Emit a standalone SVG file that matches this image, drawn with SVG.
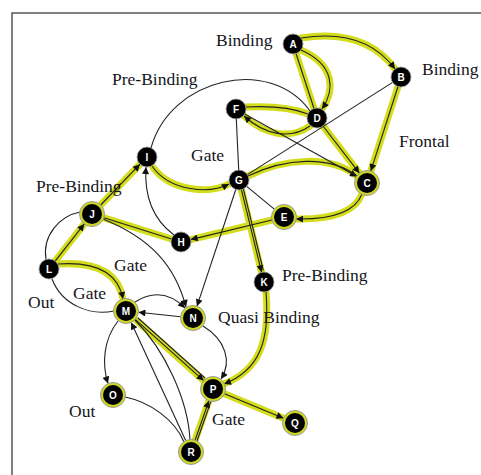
<svg xmlns="http://www.w3.org/2000/svg" width="481" height="475" viewBox="0 0 481 475">
<style>
.hl{fill:none;stroke:#d3dd1c;stroke-width:7;stroke-linecap:round}
.e{fill:none;stroke:#222;stroke-width:1.1}
.a{marker-end:url(#arr)}
.lbl{font-family:"Liberation Serif","Times New Roman",serif;font-size:17.5px;fill:#151520}
.pn{fill:#000;stroke:#999;stroke-width:0.8}
.ring{fill:#cdd81e;stroke:#9a9a9a;stroke-width:1}
.core{fill:#000}
.t{font-family:"Liberation Sans",Arial,sans-serif;font-size:10px;font-weight:bold;fill:#fff;text-anchor:middle}
</style>
<defs>
<marker id="arr" viewBox="0 0 10 10" refX="10" refY="5" markerWidth="9" markerHeight="7" markerUnits="userSpaceOnUse" orient="auto"><path d="M0,0 L10,5 L0,10 z" fill="#111"/></marker>
</defs>
<rect width="481" height="475" fill="#fff"/>
<g id="frame" stroke="#555" stroke-width="1.5" fill="none"><path d="M12,475 L12,13 L481,13"/></g>

<g id="highlights">
<path class="hl" d="M301,38 Q365,28 395,69"/>
<path class="hl" d="M296,53.5 L314,108.5"/>
<path class="hl" d="M301,50 C335,65 335,90 322,109"/>
<path class="hl" d="M398,86.5 L370.8,171.1"/>
<path class="hl" d="M246,107 Q285,105 308,114"/>
<path class="hl" d="M310,126 C290,140 265,135 244,116"/>
<path class="hl" d="M323,126 L359.4,173.1"/>
<path class="hl" d="M248,176 C285,158 330,155 357,176"/>
<path class="hl" d="M362,194 Q352,220 296,219"/>
<path class="hl" d="M271.9,220 L190.7,239.6"/>
<path class="hl" d="M241.4,189.7 L261.6,272.3"/>
<path class="hl" d="M266,292 C270,340 260,370 224,384"/>
<path class="hl" d="M152,166 C170,192 210,194 229,184"/>
<path class="hl" d="M100.7,205 L140,164.2"/>
<path class="hl" d="M55.2,261.1 L84.3,223.9"/>
<path class="hl" d="M103.9,217.8 L171.5,239"/>
<path class="hl" d="M58,264 Q116,260 123,299"/>
<path class="hl" d="M135.3,319.3 L203.7,380.6"/>
<path class="hl" d="M195.1,440.2 L208.9,400.8"/>
<path class="hl" d="M224.5,393.8 L283.5,418.2"/>
</g>

<g id="connectors">
<path class="e a" d="M301,38 Q365,28 395,69"/>
<path class="e" d="M296,53.5 L314,108.5"/>
<path class="e a" d="M301,50 C335,65 335,90 322,109"/>
<path class="e a" d="M398,86.5 L370.8,171.1"/>
<path class="e" d="M392.6,82.4 L247.4,174.6"/>
<path class="e" d="M310,111 C270,55 170,78 151,148"/>
<path class="e" d="M236.3,119 L238.7,170"/>
<path class="e" d="M246,107 Q285,105 308,114"/>
<path class="e a" d="M310,126 C290,140 265,135 244,116"/>
<path class="e a" d="M323,126 L359.4,173.1"/>
<path class="e a" d="M244.7,113.9 L357,176.5"/>
<path class="e" d="M248,176 C285,158 330,155 357,176"/>
<path class="e a" d="M362,194 Q352,220 296,219"/>
<path class="e a" d="M271.9,220 L190.7,239.6"/>
<path class="e" d="M246.7,186.3 L274.3,209.1"/>
<path class="e a" d="M241.4,189.7 L261.6,272.3"/>
<path class="e" d="M243.4,189.2 L263.3,270.5"/>
<path class="e a" d="M235.8,189.5 L197,306.2"/>
<path class="e a" d="M266,292 C270,340 260,370 224,384"/>
<path class="e a" d="M152,166 C170,192 210,194 229,184"/>
<path class="e a" d="M100.7,205 L140,164.2"/>
<path class="e a" d="M55.2,261.1 L84.3,223.9"/>
<path class="e" d="M46,259.5 C42,235 60,216 80,212"/>
<path class="e" d="M103.9,217.8 L171.5,239"/>
<path class="e a" d="M174,235 Q143,212 146,167"/>
<path class="e a" d="M103,219 C150,238 175,265 186,307"/>
<path class="e a" d="M58,264 Q116,260 123,299"/>
<path class="e" d="M52,279 C62,305 90,316 114,311"/>
<path class="e a" d="M135,302 Q162,285 185,308"/>
<path class="e a" d="M180.6,316.7 L138.4,312.3"/>
<path class="e a" d="M118,321 C103,340 102,365 108,383.5"/>
<path class="e a" d="M203,326 C226,340 232,362 221,379"/>
<path class="e a" d="M135.3,319.3 L203.7,380.6"/>
<path class="e" d="M138,318 L205,378"/>
<path class="e a" d="M185.8,440.7 L131.2,322.4"/>
<path class="e" d="M190,440 C188,400 165,350 135,320"/>
<path class="e" d="M125,397 C150,402 175,420 184,442"/>
<path class="e a" d="M195.1,440.2 L208.9,400.8"/>
<path class="e" d="M197,441 L210.8,401.6"/>
<path class="e a" d="M224.5,393.8 L283.5,418.2"/>
</g>

<g id="labels">
<text class="lbl" x="216" y="46">Binding</text>
<text class="lbl" x="422" y="75">Binding</text>
<text class="lbl" x="399" y="147">Frontal</text>
<text class="lbl" x="112" y="85">Pre-Binding</text>
<text class="lbl" x="191" y="161">Gate</text>
<text class="lbl" x="36" y="192">Pre-Binding</text>
<text class="lbl" x="114" y="271">Gate</text>
<text class="lbl" x="73" y="299">Gate</text>
<text class="lbl" x="28" y="308">Out</text>
<text class="lbl" x="282" y="281">Pre-Binding</text>
<text class="lbl" x="218" y="323">Quasi Binding</text>
<text class="lbl" x="69" y="417">Out</text>
<text class="lbl" x="212" y="425">Gate</text>
</g>

<g id="node-A"><circle class="pn" cx="293" cy="44" r="10"/><text class="t" x="293" y="47.5">A</text></g>
<g id="node-B"><circle class="pn" cx="401" cy="77" r="10"/><text class="t" x="401" y="80.5">B</text></g>
<g id="node-C"><circle class="ring" cx="367" cy="183" r="12.5"/><circle class="core" cx="367" cy="183" r="10"/><text class="t" x="367" y="186.5">C</text></g>
<g id="node-D"><circle class="pn" cx="317" cy="118" r="10"/><text class="t" x="317" y="121.5">D</text></g>
<g id="node-E"><circle class="ring" cx="284" cy="217" r="12.5"/><circle class="core" cx="284" cy="217" r="10"/><text class="t" x="284" y="220.5">E</text></g>
<g id="node-F"><circle class="pn" cx="236" cy="109" r="10"/><text class="t" x="236" y="112.5">F</text></g>
<g id="node-G"><circle class="pn" cx="239" cy="180" r="10"/><text class="t" x="239" y="183.5">G</text></g>
<g id="node-H"><circle class="pn" cx="181" cy="242" r="10"/><text class="t" x="181" y="245.5">H</text></g>
<g id="node-I"><circle class="pn" cx="147" cy="157" r="10"/><text class="t" x="147" y="160.5">I</text></g>
<g id="node-J"><circle class="ring" cx="92" cy="214" r="12.5"/><circle class="core" cx="92" cy="214" r="10"/><text class="t" x="92" y="217.5">J</text></g>
<g id="node-K"><circle class="pn" cx="264" cy="282" r="10"/><text class="t" x="264" y="285.5">K</text></g>
<g id="node-L"><circle class="pn" cx="49" cy="269" r="10"/><text class="t" x="49" y="272.5">L</text></g>
<g id="node-M"><circle class="ring" cx="126" cy="311" r="12.5"/><circle class="core" cx="126" cy="311" r="10"/><text class="t" x="126" y="314.5">M</text></g>
<g id="node-N"><circle class="ring" cx="193" cy="318" r="12.5"/><circle class="core" cx="193" cy="318" r="10"/><text class="t" x="193" y="321.5">N</text></g>
<g id="node-O"><circle class="ring" cx="113" cy="395" r="12.5"/><circle class="core" cx="113" cy="395" r="10"/><text class="t" x="113" y="398.5">O</text></g>
<g id="node-P"><circle class="ring" cx="213" cy="389" r="12.5"/><circle class="core" cx="213" cy="389" r="10"/><text class="t" x="213" y="392.5">P</text></g>
<g id="node-Q"><circle class="ring" cx="295" cy="423" r="12.5"/><circle class="core" cx="295" cy="423" r="10"/><text class="t" x="295" y="426.5">Q</text></g>
<g id="node-R"><circle class="ring" cx="191" cy="452" r="12.5"/><circle class="core" cx="191" cy="452" r="10"/><text class="t" x="191" y="455.5">R</text></g>
</svg>
